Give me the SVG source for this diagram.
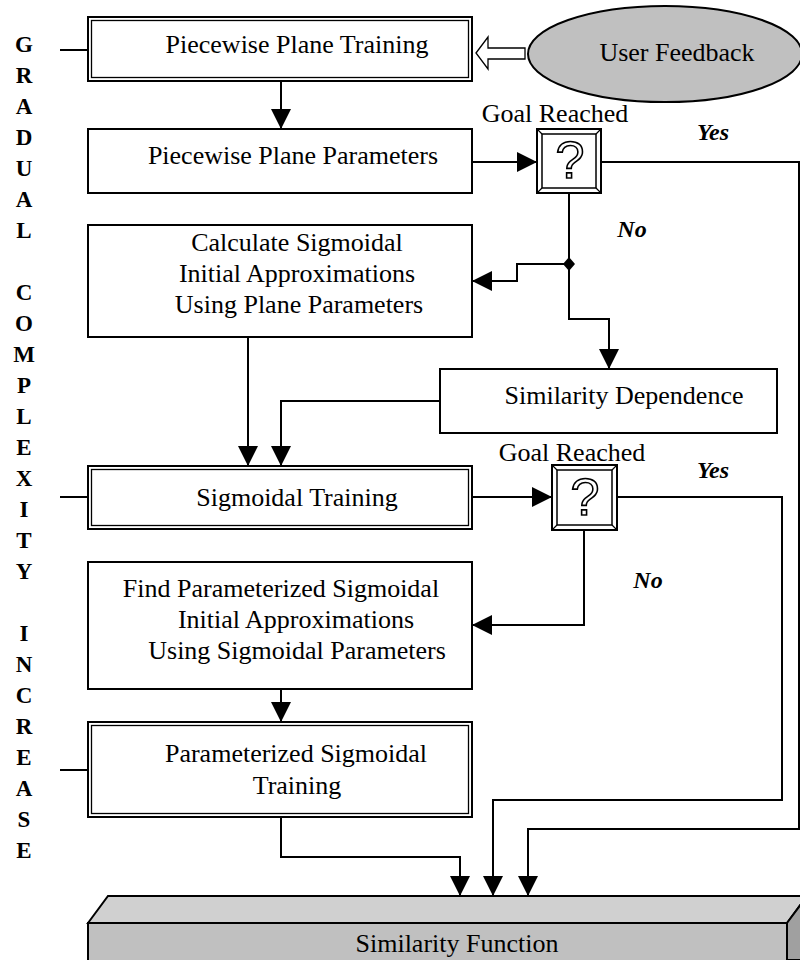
<svg xmlns="http://www.w3.org/2000/svg" width="800" height="960" viewBox="0 0 800 960">
<style>
.t{font-family:"Liberation Serif","Times New Roman",serif;font-size:26px;fill:#000}
.m{text-anchor:middle}
.lt{font-family:"Liberation Serif","Times New Roman",serif;font-size:23px;font-weight:bold;text-anchor:middle;fill:#000}
.bi{font-family:"Liberation Serif","Times New Roman",serif;font-size:24px;font-weight:bold;font-style:italic;text-anchor:middle;fill:#000}
.box{fill:#fff;stroke:#000;stroke-width:2}
.in{fill:none;stroke:#000;stroke-width:1.3}
.c{fill:none;stroke:#000;stroke-width:2}
.q{font-family:"Liberation Sans",Arial,sans-serif;font-size:52px;fill:#fff;stroke:#000;stroke-width:1.6;text-anchor:middle}
</style>
<defs>
<marker id="ah" markerUnits="userSpaceOnUse" markerWidth="20" markerHeight="20" refX="20" refY="10" orient="auto" viewBox="0 0 20 20">
<path d="M0,0 L20,10 L0,20 z" fill="#000"/>
</marker>
</defs>
<rect width="800" height="960" fill="#fff"/>

<g id="side-label">
<text class="lt" x="24" y="52">G</text>
<text class="lt" x="24" y="83">R</text>
<text class="lt" x="24" y="114">A</text>
<text class="lt" x="24" y="145">D</text>
<text class="lt" x="24" y="176">U</text>
<text class="lt" x="24" y="207">A</text>
<text class="lt" x="24" y="238">L</text>
<text class="lt" x="24" y="300">C</text>
<text class="lt" x="24" y="331">O</text>
<text class="lt" x="24" y="362">M</text>
<text class="lt" x="24" y="393">P</text>
<text class="lt" x="24" y="424">L</text>
<text class="lt" x="24" y="455">E</text>
<text class="lt" x="24" y="486">X</text>
<text class="lt" x="24" y="517">I</text>
<text class="lt" x="24" y="548">T</text>
<text class="lt" x="24" y="579">Y</text>
<text class="lt" x="24" y="641">I</text>
<text class="lt" x="24" y="672">N</text>
<text class="lt" x="24" y="703">C</text>
<text class="lt" x="24" y="734">R</text>
<text class="lt" x="24" y="765">E</text>
<text class="lt" x="24" y="796">A</text>
<text class="lt" x="24" y="827">S</text>
<text class="lt" x="24" y="858">E</text>
</g>

<g id="user-feedback">
<ellipse cx="665" cy="54" rx="137" ry="48" fill="#c0c0c0" stroke="#000" stroke-width="2"/>
<text class="t m" x="677" y="61">User Feedback</text>
<polygon points="476,53 488,37 488,48 525,48 525,59 488,59 488,69" fill="#fff" stroke="#000" stroke-width="1.3"/>
</g>

<g id="piecewise-plane-training">
<rect class="box" x="88" y="17" width="384" height="64"/>
<rect class="in" x="91.5" y="20.5" width="377" height="57"/>
<text class="t m" x="297" y="53">Piecewise Plane Training</text>
</g>

<g id="piecewise-plane-parameters">
<rect class="box" x="88" y="129" width="384" height="64"/>
<text class="t m" x="293" y="164">Piecewise Plane Parameters</text>
</g>

<g id="goal1">
<text class="t m" x="555" y="122">Goal Reached</text>
<rect x="537" y="129" width="64" height="64" fill="#fff" stroke="#000" stroke-width="2"/>
<rect x="542" y="134" width="54" height="54" fill="#fff" stroke="#000" stroke-width="1.5"/>
<path d="M537,129 L542,134 M601,129 L596,134 M537,193 L542,188 M601,193 L596,188" stroke="#000" stroke-width="1.2"/>
<text class="q" x="570" y="178">?</text>
</g>

<g id="calculate-sigmoidal">
<rect class="box" x="88" y="225" width="384" height="112"/>
<text class="t m" x="297" y="251">Calculate Sigmoidal</text>
<text class="t m" x="297" y="282">Initial Approximations</text>
<text class="t m" x="299" y="313">Using Plane Parameters</text>
</g>

<g id="similarity-dependence">
<rect class="box" x="440" y="369" width="337" height="64"/>
<text class="t m" x="624" y="404">Similarity Dependence</text>
</g>

<g id="sigmoidal-training">
<rect class="box" x="88" y="466" width="384" height="63"/>
<rect class="in" x="91.5" y="469.5" width="377" height="56"/>
<text class="t m" x="297" y="506">Sigmoidal Training</text>
</g>

<g id="goal2">
<text class="t m" x="572" y="461">Goal Reached</text>
<rect x="552" y="465" width="65" height="65" fill="#fff" stroke="#000" stroke-width="2"/>
<rect x="557" y="470" width="55" height="55" fill="#fff" stroke="#000" stroke-width="1.5"/>
<path d="M552,465 L557,470 M617,465 L612,470 M552,530 L557,525 M617,530 L612,525" stroke="#000" stroke-width="1.2"/>
<text class="q" x="585" y="515">?</text>
</g>

<g id="find-parameterized">
<rect class="box" x="88" y="562" width="384" height="127"/>
<text class="t m" x="281" y="597">Find Parameterized Sigmoidal</text>
<text class="t m" x="296" y="628">Initial Approximations</text>
<text class="t m" x="297" y="659">Using Sigmoidal Parameters</text>
</g>

<g id="parameterized-training">
<rect class="box" x="88" y="722" width="384" height="95"/>
<rect class="in" x="91.5" y="725.5" width="377" height="88"/>
<text class="t m" x="296" y="762">Parameterized Sigmoidal</text>
<text class="t m" x="297" y="794">Training</text>
</g>

<g id="similarity-function">
<polygon points="88,923 108,896 807,896 787,923" fill="#d0d0d0" stroke="#000" stroke-width="2"/>
<polygon points="787,923 807,896 807,960 787,960" fill="#a0a0a0" stroke="#000" stroke-width="2"/>
<rect x="88" y="923" width="699" height="40" fill="#c0c0c0" stroke="#000" stroke-width="2"/>
<text class="t m" x="457" y="952">Similarity Function</text>
</g>

<g id="labels">
<text class="bi" x="713" y="140">Yes</text>
<text class="bi" x="632" y="237">No</text>
<text class="bi" x="713" y="478">Yes</text>
<text class="bi" x="648" y="588">No</text>
</g>

<g id="connectors">
<path class="c" d="M60,50 H88 M60,497 H88 M60,770 H88"/>
<path class="c" d="M281,81 V129" marker-end="url(#ah)"/>
<path class="c" d="M472,162 H537" marker-end="url(#ah)"/>
<path class="c" d="M601,162 H799 V829 H528 V896" marker-end="url(#ah)"/>
<path class="c" d="M569,193 V264 H517 V281 H472" marker-end="url(#ah)"/>
<path class="c" d="M569,264 V319 H609 V369" marker-end="url(#ah)"/>
<polygon points="569,257 575,264 569,271 563,264" fill="#000"/>
<path class="c" d="M248,337 V466" marker-end="url(#ah)"/>
<path class="c" d="M440,401 H281 V466" marker-end="url(#ah)"/>
<path class="c" d="M472,497 H552" marker-end="url(#ah)"/>
<path class="c" d="M617,497 H782 V800 H493 V896" marker-end="url(#ah)"/>
<path class="c" d="M584,530 V625 H472" marker-end="url(#ah)"/>
<path class="c" d="M281,689 V722" marker-end="url(#ah)"/>
<path class="c" d="M281,817 V857 H460 V896" marker-end="url(#ah)"/>
</g>
</svg>
